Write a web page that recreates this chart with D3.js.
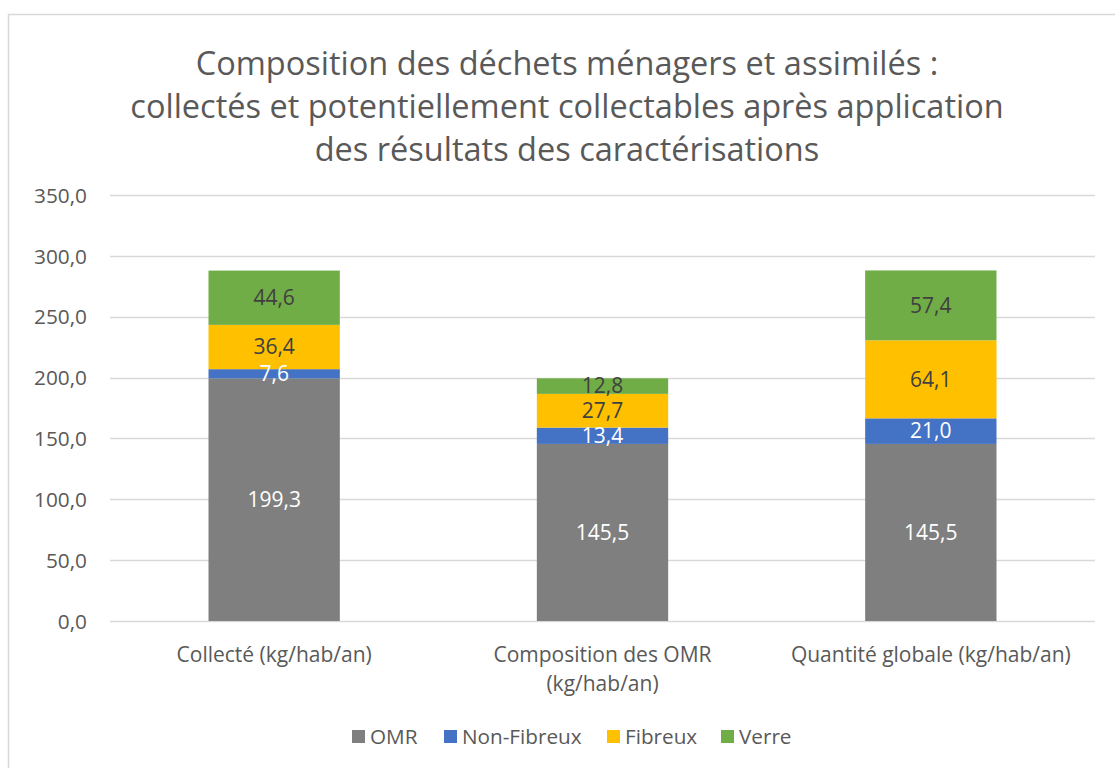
<!DOCTYPE html>
<html><head><meta charset="utf-8">
<script src="https://cdn.jsdelivr.net/npm/d3@7"></script>
<style>
body{margin:0;background:#fff;}
text{font-family:"Open Sans",sans-serif;}
</style></head>
<body>
<svg id="c" width="1115" height="768"></svg>
<script>
const categories = [["Collecté (kg/hab/an)"], ["Composition des OMR", "(kg/hab/an)"], ["Quantité globale (kg/hab/an)"]];
const seriesNames = ["OMR", "Non-Fibreux", "Fibreux", "Verre"];
const OMR = [199.3, 145.5, 145.5];
const nonFibreux = [7.6, 13.4, 21.0];
const fibreux = [36.4, 27.7, 64.1];
const verre = [44.6, 12.8, 57.4];
const yTicks = [0, 50, 100, 150, 200, 250, 300, 350];
const colors = ["#7f7f7f", "#4472c4", "#ffc000", "#70ad47"];
const labelColors = ["#ffffff", "#ffffff", "#404040", "#404040"];
const titleLines = ["Composition des déchets ménagers et assimilés :", "collectés et potentiellement collectables après application", "des résultats des caractérisations"];

const svg = d3.select("#c");
svg.append("rect").attr("x", 8.5).attr("y", 14.5).attr("width", 1130).attr("height", 780)
  .attr("fill", "#fff").attr("stroke", "#d9d9d9").attr("stroke-width", 1.5);

const plot = {left: 110, right: 1095, top: 195, bottom: 621};
const x = d3.scaleBand().domain(d3.range(categories.length)).range([plot.left, plot.right]).padding(0);
const y = d3.scaleLinear().domain([0, 350]).range([plot.bottom, plot.top]);

// title
svg.append("g").selectAll("text").data(titleLines).join("text")
  .attr("x", 567).attr("y", (d, i) => 75 + i * 43)
  .attr("text-anchor", "middle").attr("font-size", 32.5).attr("fill", "#595959")
  .text(d => d);

// gridlines
svg.append("g").selectAll("line").data(yTicks).join("line")
  .attr("x1", plot.left).attr("x2", plot.right)
  .attr("y1", d => Math.round(y(d)) + 0.5).attr("y2", d => Math.round(y(d)) + 0.5)
  .attr("stroke", "#d9d9d9").attr("stroke-width", 1.5);

// y axis
const yAxis = d3.axisLeft(y).tickValues(yTicks).tickSize(0).tickPadding(0)
  .tickFormat(d => d3.format(".1f")(d).replace(".", ","));
const ga = svg.append("g").attr("transform", `translate(87,0)`).call(yAxis);
ga.select(".domain").remove();
ga.selectAll("text").attr("font-size", 20.8).attr("fill", "#595959").attr("font-family", "Open Sans").attr("dy", "0.35em");

// stack
const rows = categories.map((c, i) => ({i, OMR: OMR[i], "Non-Fibreux": nonFibreux[i], Fibreux: fibreux[i], Verre: verre[i]}));
const stacked = d3.stack().keys(seriesNames)(rows);
const bw = x.bandwidth() * 0.4;
const gs = svg.append("g").selectAll("g").data(stacked).join("g").attr("fill", (d, k) => colors[k]);
gs.selectAll("rect").data(d => d).join("rect")
  .attr("x", d => x(d.data.i) + (x.bandwidth() - bw) / 2)
  .attr("width", bw)
  .attr("y", d => y(d[1]))
  .attr("height", d => y(d[0]) - y(d[1]));

// labels
const gl = svg.append("g").selectAll("g").data(stacked).join("g");
gl.each(function(s, k) {
  d3.select(this).selectAll("text").data(s).join("text")
    .attr("x", d => x(d.data.i) + x.bandwidth() / 2)
    .attr("y", d => y((d[0] + d[1]) / 2))
    .attr("dy", "0.35em")
    .attr("text-anchor", "middle").attr("font-size", 21).attr("fill", labelColors[k])
    .text(d => d3.format(".1f")(d[1] - d[0]).replace(".", ","));
});

// category labels
const gc = svg.append("g").selectAll("text").data(categories).join("text")
  .attr("text-anchor", "middle").attr("font-size", 21).attr("fill", "#595959");
gc.each(function(lines, i) {
  d3.select(this).selectAll("tspan").data(lines).join("tspan")
    .attr("x", x(i) + x.bandwidth() / 2)
    .attr("y", (d, j) => 662 + j * 29)
    .text(d => d);
});

// legend
const legX = [352, 444, 607, 721];
const lg = svg.append("g").selectAll("g").data(seriesNames).join("g")
  .attr("transform", (d, i) => `translate(${legX[i]},730)`);
lg.append("rect").attr("width", 13).attr("height", 13).attr("fill", (d, i) => colors[i]);
lg.append("text").attr("x", 18).attr("y", 6.5).attr("dy", "0.35em")
  .attr("font-size", 20.7).attr("fill", "#595959").text(d => d);
</script>
</body></html>
